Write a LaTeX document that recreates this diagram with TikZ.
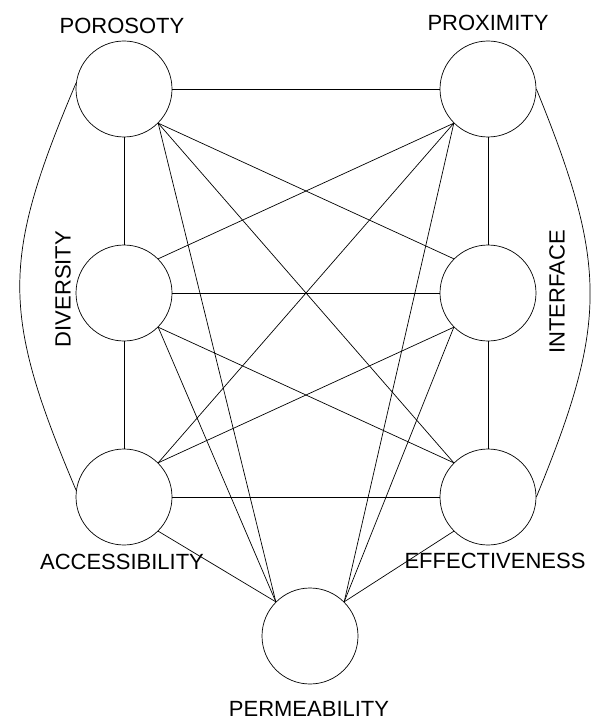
\documentclass[tikz,border=0pt]{standalone}
\usepackage{fontspec}
\setmainfont{Liberation Sans}
\begin{document}
\begin{tikzpicture}[x=1pt,y=-1pt,line width=0.7pt,
  factor/.style={circle,draw,minimum size=96pt,inner sep=0pt},
  lbl/.style={font=\fontsize{22}{26}\selectfont,inner sep=0pt}]
\useasboundingbox (0,0) rectangle (592,722);
% circles
\node[factor] (poro) at (124,89) {};
\node[factor] (prox) at (488,89) {};
\node[factor] (div) at (124,293) {};
\node[factor] (inter) at (488,293) {};
\node[factor] (acc) at (124,497) {};
\node[factor] (eff) at (488,497) {};
\node[factor] (perm) at (310,636) {};
% labels
\node[lbl] (poroT) at (122,26) {POROSOTY};
\node[lbl] (proxT) at (488,23) {PROXIMITY};
\node[lbl,rotate=90] (divT) at (63,289) {DIVERSITY};
\node[lbl,rotate=90] (interT) at (557,292) {INTERFACE};
\node[lbl] (accT) at (122,562) {ACCESSIBILITY};
\node[lbl] (effT) at (495,561) {EFFECTIVENESS};
\node[lbl] (permT) at (309,709) {PERMEABILITY};
% frame
\draw (poro) -- (prox);
\draw (poro) -- (div) -- (acc);
\draw (prox) -- (inter) -- (eff);
\draw (div) -- (inter);
\draw (acc) -- (eff);
\draw (poro.173) .. controls (1,260) and (1,313) .. (acc.172);
\draw (prox.0) .. controls (608,265) and (608,323) .. (eff.0);
% diagonals
\foreach \t/\a in {inter/135,eff/135,perm/135}
  \draw (poro.-45) -- (\t.\a);
\foreach \t/\a in {div/45,acc/45,perm/45}
  \draw (prox.225) -- (\t.\a);
\foreach \t/\a in {eff/135,perm/135}
  \draw (div.-45) -- (\t.\a);
\foreach \t/\a in {acc/45,perm/45}
  \draw (inter.225) -- (\t.\a);
\draw (acc.-45) -- (perm.135);
\draw (eff.225) -- (perm.45);
\end{tikzpicture}
\end{document}
